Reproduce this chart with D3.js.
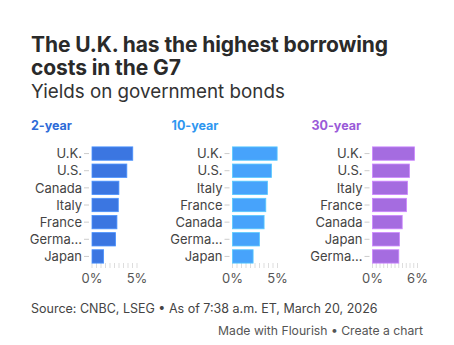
<!DOCTYPE html>
<html>
<head>
<meta charset="utf-8">
<title>G7 bond yields</title>
<script src="https://d3js.org/d3.v7.min.js"></script>
<style>
  body { margin: 0; background: #fff; }
  text { font-family: Inter, "Noto Sans", sans-serif; }
</style>
</head>
<body>
<script>
// yields (%) per maturity, countries sorted high to low
var countries2y = ["U.K.", "U.S.", "Canada", "Italy", "France", "Germa...", "Japan"];
var yields2y = [4.53, 3.87, 2.99, 2.92, 2.77, 2.62, 1.29];

var countries10y = ["U.K.", "U.S.", "Italy", "France", "Canada", "Germa...", "Japan"];
var yields10y = [4.96, 4.33, 3.89, 3.70, 3.51, 3.00, 2.29];

var countries30y = ["U.K.", "U.S.", "Italy", "France", "Canada", "Japan", "Germa..."];
var yields30y = [5.60, 4.93, 4.67, 4.53, 3.96, 3.60, 3.51];

var panelTitles = ["2-year", "10-year", "30-year"];
var axisMax = [5, 5, 6];
var tickLabels = [["0%", "5%"], ["0%", "5%"], ["0%", "6%"]];

var panels = [
  {title: panelTitles[0], names: countries2y, values: yields2y, max: axisMax[0], ticks: tickLabels[0], color: "#3b76e1", head: "#2d6bd8"},
  {title: panelTitles[1], names: countries10y, values: yields10y, max: axisMax[1], ticks: tickLabels[1], color: "#47a3fb", head: "#2f97f0"},
  {title: panelTitles[2], names: countries30y, values: yields30y, max: axisMax[2], ticks: tickLabels[2], color: "#a56ce0", head: "#9a5ad8"}
];

var W = 454, H = 345;
var svg = d3.select("body").append("svg")
  .attr("width", W).attr("height", H);

// heading
svg.append("text").attr("x", 31).attr("y", 52)
  .attr("font-size", 21).attr("font-weight", 700).attr("fill", "#2a2a2a")
  .attr("letter-spacing", -0.1)
  .text("The U.K. has the highest borrowing");
svg.append("text").attr("x", 31).attr("y", 75)
  .attr("font-size", 21).attr("font-weight", 700).attr("fill", "#2a2a2a")
  .attr("letter-spacing", -0.1)
  .text("costs in the G7");
svg.append("text").attr("x", 31).attr("y", 98)
  .attr("font-size", 18.8).attr("fill", "#333")
  .text("Yields on government bonds");

var panelX = [31, 171.5, 311.5];
var labelW = 61;   // space from panel left to bar origin
var barW = 45;     // axis length

panels.forEach(function(p, i){
  var g = svg.append("g").attr("transform", "translate(" + panelX[i] + ",0)");

  g.append("text").attr("x", 0).attr("y", 130)
    .attr("font-size", 12.5).attr("font-weight", 700).attr("fill", p.head)
    .text(p.title);

  var x = d3.scaleLinear().domain([0, p.max]).range([labelW, labelW + barW]);
  var y = d3.scaleBand().domain(p.names).range([145, 265])
    .paddingInner(0.22).paddingOuter(0.11);

  // minor ticks every 0.5%
  g.append("g").selectAll("line")
    .data(d3.range(0, p.max + 0.01, 0.5))
    .join("line")
    .attr("x1", function(d){ return x(d); })
    .attr("x2", function(d){ return x(d); })
    .attr("y1", 263).attr("y2", 268)
    .attr("stroke", "#ddd").attr("stroke-width", 1);

  // category ticks + labels
  var yAxis = g.append("g");
  yAxis.selectAll("line").data(p.names).join("line")
    .attr("x1", labelW - 8).attr("x2", labelW - 3)
    .attr("y1", function(d){ return y(d) + y.bandwidth() / 2; })
    .attr("y2", function(d){ return y(d) + y.bandwidth() / 2; })
    .attr("stroke", "#ccc");
  yAxis.selectAll("text").data(p.names).join("text")
    .attr("x", labelW - 10)
    .attr("y", function(d){ return y(d) + y.bandwidth() / 2; })
    .attr("dy", "0.36em").attr("text-anchor", "end")
    .attr("font-size", 13).attr("fill", "#444")
    .text(function(d){ return d; });

  // bars
  g.append("g").selectAll("rect")
    .data(p.values)
    .join("rect")
    .attr("x", x(0))
    .attr("y", function(d, j){ return y(p.names[j]); })
    .attr("width", function(d){ return x(d) - x(0); })
    .attr("height", y.bandwidth())
    .attr("fill", p.color)
    .attr("stroke", d3.color(p.color).brighter(0.6))
    .attr("stroke-width", 0.8);

  // end labels of x axis
  g.append("g").selectAll("text")
    .data([0, p.max])
    .join("text")
    .attr("x", function(d){ return x(d); })
    .attr("y", 283)
    .attr("text-anchor", "middle")
    .attr("font-size", 13).attr("fill", "#555")
    .text(function(d, j){ return p.ticks[j]; });
});

// footer
svg.append("text").attr("x", 31).attr("y", 313)
  .attr("font-size", 12.5).attr("fill", "#444")
  .text("Source: CNBC, LSEG \u2022 As of 7:38 a.m. ET, March 20, 2026");
svg.append("text").attr("x", 423).attr("y", 335)
  .attr("text-anchor", "end")
  .attr("font-size", 12.2).attr("fill", "#555")
  .text("Made with Flourish \u2022 Create a chart");
</script>
</body>
</html>
